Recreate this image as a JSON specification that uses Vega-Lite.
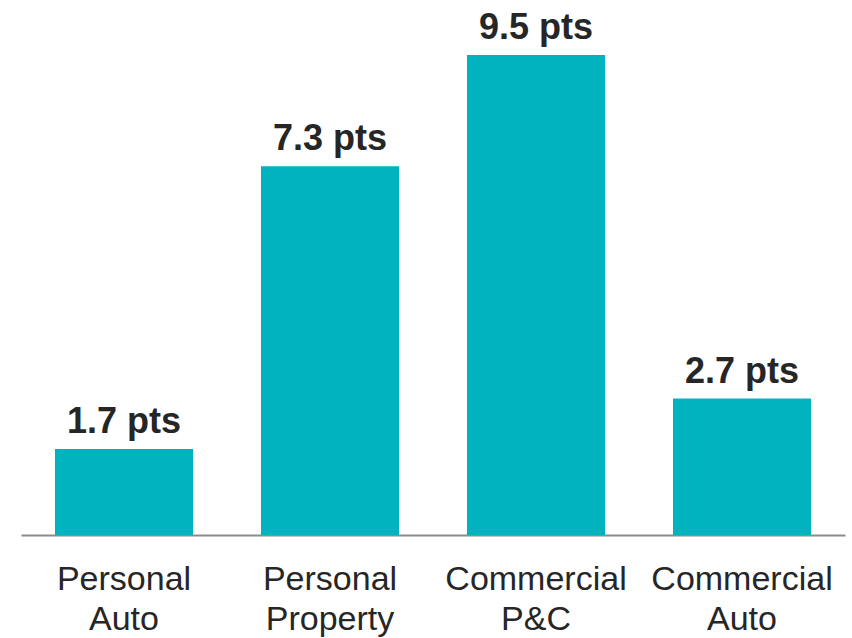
{
  "$schema": "https://vega.github.io/schema/vega-lite/v6.json",
  "width": 824,
  "height": 535,
  "autosize": {"type": "none"},
  "padding": {"left": 21, "top": 0, "right": 7, "bottom": 103},
  "background": "white",
  "config": {"view": {"stroke": null}, "font": "Liberation Sans"},
  "data": {
    "values": [
      {"segment": "Personal Auto", "value": 1.7, "label": "1.7 pts"},
      {"segment": "Personal Property", "value": 7.3, "label": "7.3 pts"},
      {"segment": "Commercial P&C", "value": 9.5, "label": "9.5 pts"},
      {"segment": "Commercial Auto", "value": 2.7, "label": "2.7 pts"}
    ]
  },
  "encoding": {
    "x": {
      "field": "segment",
      "type": "nominal",
      "sort": null,
      "scale": {"paddingInner": 0.33, "paddingOuter": 0.165},
      "axis": {
        "title": null,
        "ticks": false,
        "domainColor": "#8c8c8c",
        "domainWidth": 2,
        "labelAngle": 0,
        "labelFont": "Liberation Sans",
        "labelFontSize": 34,
        "labelColor": "#262626",
        "labelPadding": 27,
        "labelLineHeight": 40,
        "labelLimit": 0,
        "labelExpr": "split(datum.label, ' ')"
      }
    },
    "y": {
      "field": "value",
      "type": "quantitative",
      "scale": {"domain": [0, 10.59], "nice": false},
      "axis": null
    }
  },
  "layer": [
    {"mark": {"type": "bar", "color": "#00B3BE"}},
    {
      "mark": {
        "type": "text",
        "baseline": "alphabetic",
        "dy": -16,
        "fontSize": 36,
        "fontWeight": "bold",
        "color": "#262626"
      },
      "encoding": {"text": {"field": "label"}}
    }
  ]
}
